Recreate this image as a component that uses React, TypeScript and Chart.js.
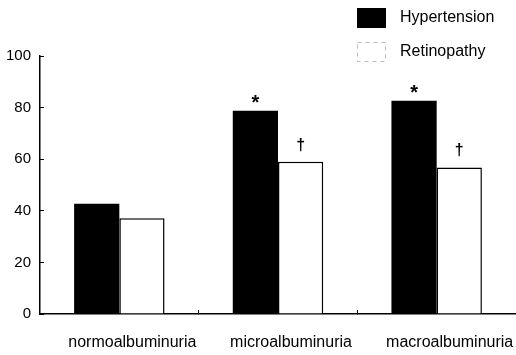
import React, { useEffect, useRef } from "react";
import { Chart, registerables } from "chart.js";

Chart.register(...registerables);

const categories = ["normoalbuminuria", "microalbuminuria", "macroalbuminuria"];
const seriesNames = ["Hypertension", "Retinopathy"];
const hypertension = [42.7, 78.8, 82.7];
const retinopathy = [37.1, 59, 56.8];
const hypertensionMarks = ["", "*", "*"];
const retinopathyMarks = ["", "\u2020", "\u2020"];
const yTicks = [0, 20, 40, 60, 80, 100];

const FONT = "'Liberation Sans', Arial, sans-serif";

const marksPlugin = {
  id: "marks",
  afterDatasetsDraw(chart: any) {
    const ctx = chart.ctx;
    const allMarks = [hypertensionMarks, retinopathyMarks];
    ctx.save();
    ctx.fillStyle = "#000";
    ctx.textAlign = "center";
    ctx.textBaseline = "alphabetic";
    allMarks.forEach((marks, di) => {
      const meta = chart.getDatasetMeta(di);
      meta.data.forEach((bar: any, i: number) => {
        const m = marks[i];
        if (!m) return;
        if (di === 0) {
          ctx.font = `bold 20px ${FONT}`;
          ctx.fillText(m, bar.x, bar.y - 2);
        } else {
          ctx.font = `bold 16px ${FONT}`;
          ctx.fillText(m, bar.x, bar.y - 12);
        }
      });
    });
    ctx.restore();
  },
};

const legendPlugin = {
  id: "customLegend",
  afterDraw(chart: any) {
    const ctx = chart.ctx;
    ctx.save();
    chart.data.datasets.forEach((ds: any, i: number) => {
      const bx = 357;
      const by = 8 + 34 * i;
      if (i === 0) {
        ctx.fillStyle = ds.backgroundColor;
        ctx.fillRect(bx, by, 29, 20);
      } else {
        ctx.fillStyle = "#fff";
        ctx.fillRect(bx, by, 29, 20);
        ctx.strokeStyle = "#bbbbbb";
        ctx.lineWidth = 1;
        ctx.setLineDash([4, 4]);
        ctx.strokeRect(bx + 0.5, by + 0.5, 28, 19);
        ctx.setLineDash([]);
      }
      ctx.fillStyle = "#000";
      ctx.font = `16px ${FONT}`;
      ctx.textAlign = "left";
      ctx.textBaseline = "middle";
      ctx.fillText(ds.label, 400, by + 10);
    });
    ctx.restore();
  },
};

export default function App() {
  const ref = useRef<HTMLCanvasElement | null>(null);
  useEffect(() => {
    if (!ref.current) return;
    const chart = new Chart(ref.current, {
      type: "bar",
      data: {
        labels: categories,
        datasets: [
          {
            label: seriesNames[0],
            data: hypertension,
            backgroundColor: "#000",
            borderColor: "#000",
            borderWidth: 0,
          },
          {
            label: seriesNames[1],
            data: retinopathy,
            backgroundColor: "#fff",
            borderColor: "#000",
            borderWidth: 1.5,
            borderSkipped: "bottom",
          },
        ],
      },
      options: {
        responsive: false,
        animation: false,
        layout: { padding: { top: 56, left: 6, right: 0, bottom: 3 } },
        plugins: { legend: { display: false }, tooltip: { enabled: false } },
        datasets: { bar: { barPercentage: 1, categoryPercentage: 0.57 } },
        scales: {
          x: {
            afterFit(scale: any) {
              scale.height = 38;
              scale.paddingLeft = 0;
              scale.paddingRight = 0;
            },
            grid: {
              display: true,
              drawOnChartArea: false,
              drawTicks: true,
              tickLength: -4,
              color: "#000",
              offset: true,
            },
            border: { color: "#000", width: 1.5 },
            ticks: {
              color: "#000",
              font: { family: FONT, size: 16 },
              padding: 23,
              labelOffset: 13,
              maxRotation: 0,
              autoSkip: false,
            },
          },
          y: {
            min: 0,
            max: 100,
            afterFit(scale: any) {
              scale.width = 34;
            },
            afterBuildTicks(scale: any) {
              scale.ticks = yTicks.map((v) => ({ value: v }));
            },
            grid: {
              display: true,
              drawOnChartArea: false,
              drawTicks: true,
              tickLength: -4,
              color: "#000",
            },
            border: { color: "#000", width: 1.5 },
            ticks: {
              color: "#000",
              font: { family: FONT, size: 15 },
              padding: 13,
            },
          },
        },
      },
      plugins: [marksPlugin, legendPlugin],
    });
    return () => chart.destroy();
  }, []);
  return (
    <div style={{ position: "fixed", left: 0, top: 0, width: 516, height: 355, background: "#fff" }}>
      <canvas ref={ref} width={516} height={355} style={{ display: "block" }} />
    </div>
  );
}
